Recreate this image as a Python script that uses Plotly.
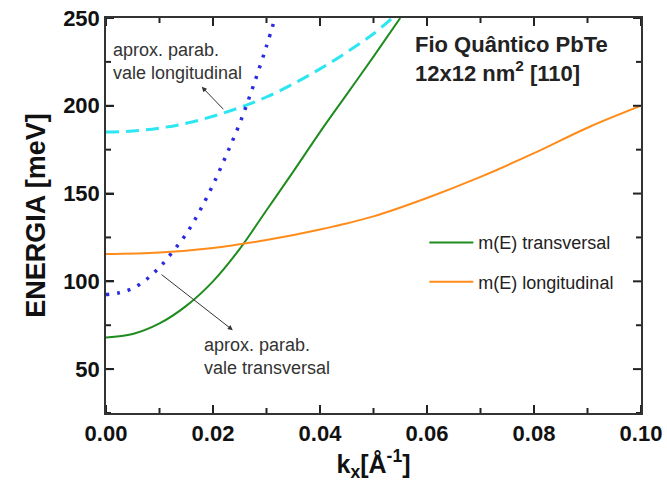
import plotly.graph_objects as go

# m(E) transversal (green)
k_trans = [0, 0.005, 0.01, 0.015, 0.02, 0.025, 0.03, 0.035, 0.04, 0.045, 0.05, 0.055]
E_trans = [68, 70, 76, 86, 100, 118.5, 140.5, 162.5, 185, 206.5, 228, 250]

# m(E) longitudinal (orange)
k_long = [0, 0.01, 0.02, 0.03, 0.04, 0.05, 0.06, 0.07, 0.08, 0.09, 0.1]
E_long = [115.5, 116.4, 119, 123.5, 129.5, 137, 147.5, 159.5, 173, 187.5, 200]

# aprox. parab. vale transversal (blue dotted)
k_pt = [0, 0.0025, 0.005, 0.0075, 0.01, 0.0125, 0.015, 0.0175, 0.02, 0.0225, 0.025, 0.0275, 0.03, 0.0316]
E_pt = [92.5, 93.5, 96, 101, 108, 117, 127, 140, 155, 172, 190, 211, 234, 250]

# aprox. parab. vale longitudinal (cyan dashed)
k_pl = [0, 0.005, 0.01, 0.015, 0.02, 0.025, 0.03, 0.035, 0.04, 0.045, 0.05, 0.0535]
E_pl = [185, 185.6, 187.3, 190, 194, 199, 205, 212.5, 221, 230.5, 241, 250]

x_range = [0, 0.1]
y_range = [25, 250]
x_tick_step = 0.02
y_tick_step = 50

FONT = "Liberation Sans, Arial, sans-serif"
W, H = 667, 495
M = dict(l=106, r=26, t=18, b=82)
plot_w = W - M["l"] - M["r"]
plot_h = H - M["t"] - M["b"]

fig = go.Figure()
fig.add_trace(go.Scatter(x=k_pl, y=E_pl, mode="lines", showlegend=False,
                         line=dict(color="#2ee6f2", width=3, dash="13px,7px", shape="spline")))
fig.add_trace(go.Scatter(x=k_pt, y=E_pt, mode="lines", showlegend=False,
                         line=dict(color="#2a2ae0", width=3.5, dash="3px,8px", shape="spline")))
fig.add_trace(go.Scatter(x=k_trans, y=E_trans, mode="lines", name="m(E) transversal",
                         legendgroup="a", line=dict(color="#1e8c1e", width=2, shape="spline")))
fig.add_trace(go.Scatter(x=k_long, y=E_long, mode="lines", name="m(E) longitudinal",
                         legendgroup="b", line=dict(color="#ff8c1a", width=2, shape="spline")))

axis_common = dict(
    showline=True, linecolor="#333333", linewidth=1.5, mirror=True,
    ticks="inside", ticklen=8, tickwidth=2, tickcolor="#222222",
    showgrid=False, zeroline=False, tickmode="linear", layer="above traces",
    tickfont=dict(family=FONT, size=22, color="#111111", weight="bold"),
)

fig.update_xaxes(range=x_range, tick0=0, dtick=x_tick_step, tickformat=".2f",
                 title=dict(text="k<sub>x</sub>[Å<sup>-1</sup>]", standoff=10,
                            font=dict(family=FONT, size=25, color="#111111", weight="bold")),
                 **axis_common)
fig.update_yaxes(range=y_range, tick0=0, dtick=y_tick_step,
                 title=dict(text="ENERGIA [meV]", standoff=10,
                            font=dict(family=FONT, size=27, color="#111111", weight="bold")),
                 **axis_common)

# tick marks on all four sides (major + minor), drawn inside the frame
def tick_values(lo, hi, step):
    vals = []
    n = 0
    while True:
        v = round(n * step, 10)
        if v > hi + 1e-12:
            break
        if v >= lo - 1e-12:
            vals.append(v)
        n += 1
    return vals

major_len, minor_len = 8, 5
tick_style = dict(color="#222222", width=2)
for v in tick_values(x_range[0], x_range[1], x_tick_step / 2):
    is_major = abs(v / x_tick_step - round(v / x_tick_step)) < 1e-6
    frac = (major_len if is_major else minor_len) / plot_h
    fig.add_shape(type="line", xref="x", yref="paper", x0=v, x1=v, y0=0, y1=frac,
                  line=tick_style, layer="above")
    fig.add_shape(type="line", xref="x", yref="paper", x0=v, x1=v, y0=1, y1=1 - frac,
                  line=tick_style, layer="above")
for v in tick_values(y_range[0], y_range[1], y_tick_step / 2):
    is_major = abs(v / y_tick_step - round(v / y_tick_step)) < 1e-6
    frac = (major_len if is_major else minor_len) / plot_w
    fig.add_shape(type="line", xref="paper", yref="y", x0=0, x1=frac, y0=v, y1=v,
                  line=tick_style, layer="above")
    fig.add_shape(type="line", xref="paper", yref="y", x0=1, x1=1 - frac, y0=v, y1=v,
                  line=tick_style, layer="above")

txt_font = dict(family=FONT, size=18, color="#333333")
fig.add_annotation(x=0.0009, y=225, xref="x", yref="y", text="aprox. parab.<br>vale longitudinal",
                   showarrow=False, xanchor="left", yanchor="middle", align="left", font=txt_font)
fig.add_annotation(x=0.0179, y=210.8, xref="x", yref="y", ax=0.0222, ay=197.2, axref="x", ayref="y",
                   text="", showarrow=True, arrowhead=2, arrowsize=1, arrowwidth=1, arrowcolor="#333333")
fig.add_annotation(x=0.0179, y=57.4, xref="x", yref="y", text="aprox. parab.<br>vale transversal",
                   showarrow=False, xanchor="left", yanchor="middle", align="left", font=txt_font)
fig.add_annotation(x=0.0237, y=72.2, xref="x", yref="y", ax=0.0101, ay=104.5, axref="x", ayref="y",
                   text="", showarrow=True, arrowhead=2, arrowsize=1, arrowwidth=1, arrowcolor="#333333")
fig.add_annotation(x=0.0574, y=226.6, xref="x", yref="y",
                   text="Fio Quântico PbTe<br>12x12 nm<sup>2</sup> [110]",
                   showarrow=False, xanchor="left", yanchor="middle", align="left",
                   font=dict(family=FONT, size=22, color="#222222", weight="bold"))

fig.update_layout(
    template="none",
    width=W, height=H,
    margin=M,
    plot_bgcolor="white", paper_bgcolor="white",
    showlegend=True,
    legend=dict(x=0.595, y=0.478, xanchor="left", yanchor="top", bgcolor="rgba(0,0,0,0)",
                traceorder="grouped", tracegroupgap=13, itemwidth=44,
                font=dict(family=FONT, size=18, color="#222222")),
)

fig.write_html("out.html")
